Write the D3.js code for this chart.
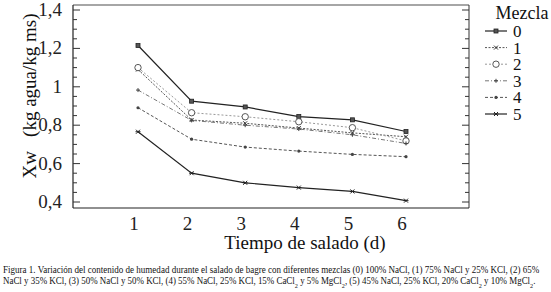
<!DOCTYPE html>
<html>
<head>
<meta charset="utf-8">
<script src="https://cdn.jsdelivr.net/npm/d3@7"></script>
<style>
  body { margin: 0; background: #fff; }
</style>
</head>
<body>
<svg id="chart" width="551" height="292" font-family="'Liberation Serif', 'DejaVu Serif', serif"></svg>
<script>
// data
const days = [1, 2, 3, 4, 5, 6];
const mezcla0 = [1.215, 0.925, 0.895, 0.845, 0.828, 0.767];
const mezcla1 = [1.09, 0.827, 0.81, 0.785, 0.76, 0.74];
const mezcla2 = [1.10, 0.865, 0.844, 0.818, 0.787, 0.718];
const mezcla3 = [0.983, 0.825, 0.80, 0.78, 0.75, 0.705];
const mezcla4 = [0.891, 0.727, 0.686, 0.665, 0.648, 0.636];
const mezcla5 = [0.766, 0.55, 0.50, 0.475, 0.455, 0.407];
const seriesNames = ["0", "1", "2", "3", "4", "5"];
const yTicks = [0.4, 0.6, 0.8, 1.0, 1.2, 1.4];

const width = 551, height = 292;
const svg = d3.select("#chart");

// plot box
const box = { left: 73, right: 469, top: 5, bottom: 208 };
const x = d3.scaleLinear().domain([1, 6]).range([138, 406]);
const y = d3.scaleLinear().domain([0.4, 1.4]).range([202, 10]);

const fmt = d => String(+d.toFixed(1)).replace(".", ",");

// frame
svg.append("line").attr("x1", box.left).attr("x2", box.right).attr("y1", box.top).attr("y2", box.top)
  .attr("stroke", "#888").attr("stroke-width", 1.5);
svg.append("line").attr("x1", box.right).attr("x2", box.right).attr("y1", box.top).attr("y2", box.bottom)
  .attr("stroke", "#333").attr("stroke-width", 1);
svg.append("line").attr("x1", box.left).attr("x2", box.left).attr("y1", box.top).attr("y2", box.bottom)
  .attr("stroke", "#222").attr("stroke-width", 1.2);
svg.append("line").attr("x1", box.left).attr("x2", box.right).attr("y1", box.bottom).attr("y2", box.bottom)
  .attr("stroke", "#222").attr("stroke-width", 1.2);

// y ticks (inward on both sides), minor every 0.05
const allTicks = d3.range(0, 21).map(i => 0.4 + i * 0.05);
allTicks.forEach((t, i) => {
  const major = i % 4 === 0;
  const len = major ? 7 : 4;
  svg.append("line").attr("x1", box.left).attr("x2", box.left + len)
    .attr("y1", y(t)).attr("y2", y(t)).attr("stroke", "#333");
  svg.append("line").attr("x1", box.right).attr("x2", box.right - len)
    .attr("y1", y(t)).attr("y2", y(t)).attr("stroke", "#333");
});
svg.append("g").selectAll("text").data(yTicks).join("text")
  .attr("x", 62).attr("y", d => y(d) + 6)
  .attr("text-anchor", "end").attr("font-size", 19).attr("fill", "#222")
  .text(fmt);

// x tick labels
svg.append("g").selectAll("text").data(days).join("text")
  .attr("x", d => x(d) - 4).attr("y", 230)
  .attr("text-anchor", "middle").attr("font-size", 19).attr("fill", "#222")
  .text(d => d);

// axis titles
svg.append("text").attr("x", 305).attr("y", 249).attr("text-anchor", "middle")
  .attr("font-size", 19).attr("fill", "#111").text("Tiempo de salado (d)");
svg.append("text").attr("transform", "translate(36,96) rotate(-90)")
  .attr("text-anchor", "middle").attr("font-size", 19).attr("fill", "#111")
  .attr("xml:space", "preserve").text("Xw   (kg agua/kg ms)");

// series styling
const series = [
  { name: "0", values: mezcla0, stroke: "#222", dash: null, marker: "square" },
  { name: "1", values: mezcla1, stroke: "#555", dash: "2,1.5", marker: "cross" },
  { name: "2", values: mezcla2, stroke: "#999", dash: "2,2", marker: "circle" },
  { name: "3", values: mezcla3, stroke: "#777", dash: "4,2,1,2", marker: "plus" },
  { name: "4", values: mezcla4, stroke: "#555", dash: "3,2", marker: "dot" },
  { name: "5", values: mezcla5, stroke: "#222", dash: null, marker: "asterisk" }
];

const line = d3.line().x((d, i) => x(days[i])).y(d => y(d));

function drawMarker(g, type, cx, cy) {
  if (type === "square") {
    g.append("rect").attr("x", cx - 2).attr("y", cy - 2).attr("width", 4).attr("height", 4)
      .attr("fill", "#555").attr("stroke", "#222").attr("stroke-width", 0.8);
  } else if (type === "circle") {
    g.append("circle").attr("cx", cx).attr("cy", cy).attr("r", 3.2)
      .attr("fill", "#fff").attr("stroke", "#444").attr("stroke-width", 0.9);
  } else if (type === "cross") {
    g.append("path").attr("d", `M${cx-2},${cy-2}L${cx+2},${cy+2}M${cx-2},${cy+2}L${cx+2},${cy-2}`)
      .attr("stroke", "#333").attr("stroke-width", 1);
  } else if (type === "plus") {
    g.append("path").attr("d", `M${cx-2},${cy}L${cx+2},${cy}M${cx},${cy-2}L${cx},${cy+2}`)
      .attr("stroke", "#444").attr("stroke-width", 1);
  } else if (type === "dot") {
    g.append("circle").attr("cx", cx).attr("cy", cy).attr("r", 1.6).attr("fill", "#444");
  } else if (type === "asterisk") {
    g.append("path").attr("d", `M${cx-2.5},${cy}L${cx+2.5},${cy}M${cx-2},${cy-2}L${cx+2},${cy+2}M${cx-2},${cy+2}L${cx+2},${cy-2}`)
      .attr("stroke", "#222").attr("stroke-width", 1);
  }
}

const plot = svg.append("g");
series.forEach(s => {
  plot.append("path").attr("d", line(s.values)).attr("fill", "none")
    .attr("stroke", s.stroke).attr("stroke-width", s.dash ? 1 : 1.2)
    .attr("stroke-dasharray", s.dash);
  s.values.forEach((v, i) => drawMarker(plot, s.marker, x(days[i]), y(v)));
});

// legend
svg.append("text").attr("x", 522).attr("y", 19).attr("text-anchor", "middle")
  .attr("font-size", 18).attr("fill", "#111").text("Mezcla");
const legend = svg.append("g");
series.forEach((s, i) => {
  const ly = 31 + i * 16.6;
  legend.append("line").attr("x1", 485).attr("x2", 507).attr("y1", ly).attr("y2", ly)
    .attr("stroke", s.stroke).attr("stroke-width", s.dash ? 1 : 1.2)
    .attr("stroke-dasharray", s.dash);
  drawMarker(legend, s.marker, 496, ly);
  legend.append("text").attr("x", 513).attr("y", ly + 6)
    .attr("font-size", 17).attr("fill", "#111").text(s.name);
});

// caption, two lines, squeezed horizontally to the printed width
const capLines = [
  [["Figura 1. Variación del contenido de humedad durante el salado de bagre con diferentes mezclas (0) 100% NaCl, (1) 75% NaCl y 25% KCl, (2) 65%", false]],
  [["NaCl y 35% KCl, (3) 50% NaCl y 50% KCl, (4) 55% NaCl, 25% KCl, 15% CaCl", false], ["2", true],
   [" y 5% MgCl", false], ["2", true], [", (5) 45% NaCl, 25% KCl, 20% CaCl", false], ["2", true],
   [" y 10% MgCl", false], ["2", true], [".", false]]
];
const capWidths = [537, 533];
const capY = [273, 284];
capLines.forEach((parts, li) => {
  const g = svg.append("g");
  const t = g.append("text").attr("x", 0).attr("y", 0).attr("font-size", 10).attr("fill", "#111");
  parts.forEach(([txt, sub]) => {
    const ts = t.append("tspan").text(txt);
    if (sub) ts.attr("font-size", 7).attr("baseline-shift", "sub");
  });
  const w = t.node().getComputedTextLength();
  g.attr("transform", `translate(3,${capY[li]}) scale(${capWidths[li] / w},1)`);
});
</script>
</body>
</html>
